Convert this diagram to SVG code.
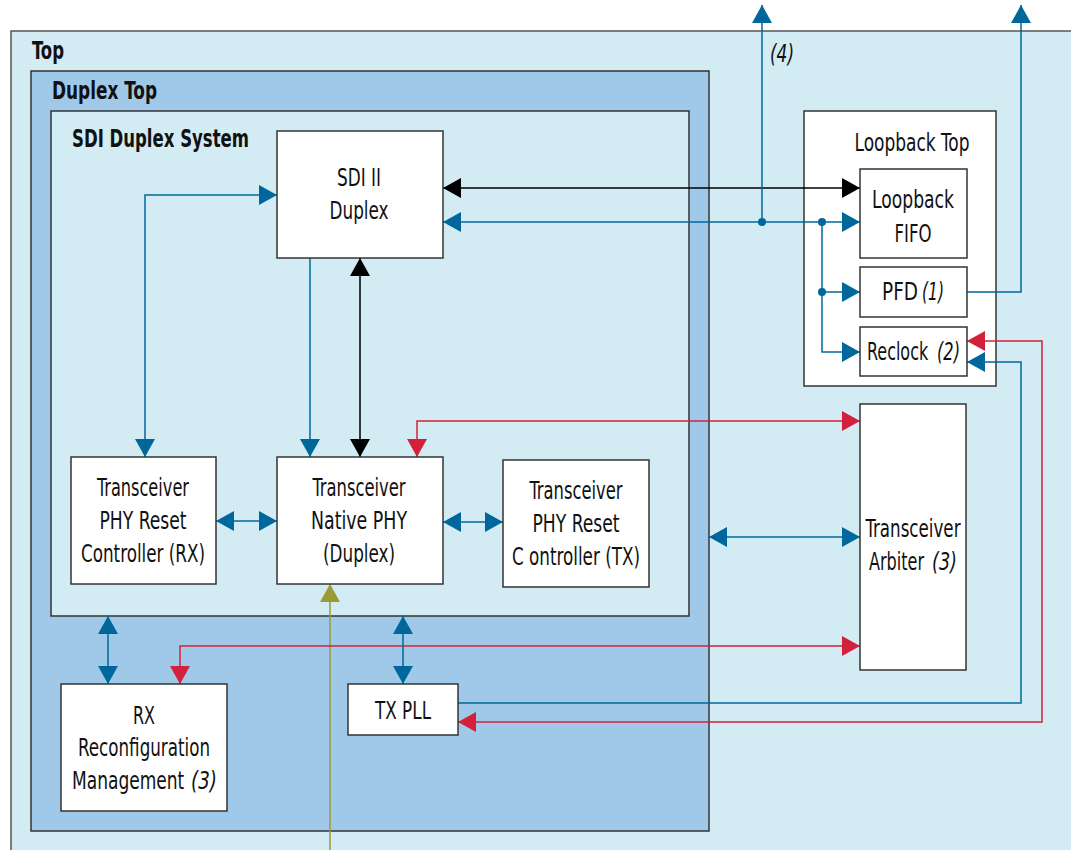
<svg xmlns="http://www.w3.org/2000/svg" width="1071" height="850" viewBox="0 0 1071 850">
  <style>
    .lt { fill: #d3ecf3; stroke: #555; stroke-width: 1.5; }
    .md { fill: #a0c9e9; stroke: #333; stroke-width: 1.5; }
    .bx { fill: #ffffff; stroke: #333; stroke-width: 1.5; }
    text { font-family: "Liberation Sans Narrow", "DejaVu Sans Condensed", "Liberation Sans", sans-serif; font-size: 24px; fill: #111; }
    .c { text-anchor: middle; }
    .h { font-weight: bold; }
    .i { font-style: italic; }
    .w { fill: none; stroke-width: 1.5; }
    .blu { stroke: #00679c; }
    .blk { stroke: #000; }
    .red { stroke: #d3213c; }
    .olv { stroke: #9a9a37; }
  </style>
  <defs>
    <marker id="aB" markerUnits="userSpaceOnUse" markerWidth="18" markerHeight="20" refX="18" refY="10" orient="auto-start-reverse">
      <path d="M0,0 L18,10 L0,20 z" fill="#00679c"/>
    </marker>
    <marker id="aK" markerUnits="userSpaceOnUse" markerWidth="18" markerHeight="20" refX="18" refY="10" orient="auto-start-reverse">
      <path d="M0,0 L18,10 L0,20 z" fill="#000"/>
    </marker>
    <marker id="aR" markerUnits="userSpaceOnUse" markerWidth="18" markerHeight="20" refX="18" refY="10" orient="auto-start-reverse">
      <path d="M0,0 L18,10 L0,20 z" fill="#d3213c"/>
    </marker>
    <marker id="aO" markerUnits="userSpaceOnUse" markerWidth="18" markerHeight="20" refX="18" refY="10" orient="auto-start-reverse">
      <path d="M0,0 L18,10 L0,20 z" fill="#9a9a37"/>
    </marker>
  </defs>

  <rect width="1071" height="850" fill="#fff"/>

  <!-- containers -->
  <g id="top">
    <rect class="lt" x="11" y="31" width="1080" height="840"/>
    <text class="h" x="32" y="59" textLength="32" lengthAdjust="spacingAndGlyphs">Top</text>
  </g>
  <g id="duplex-top">
    <rect class="md" x="31" y="71" width="678" height="760"/>
    <text class="h" x="52" y="99" textLength="105" lengthAdjust="spacingAndGlyphs">Duplex Top</text>
  </g>
  <g id="sdi-duplex-system">
    <rect class="lt" x="51" y="111" width="638" height="505" style="stroke:#333"/>
    <text class="h" x="72" y="147" textLength="177" lengthAdjust="spacingAndGlyphs">SDI Duplex System</text>
  </g>
  <g id="loopback-top">
    <rect class="bx" x="804" y="111" width="192" height="275"/>
    <text class="c" x="912" y="151" textLength="115" lengthAdjust="spacingAndGlyphs">Loopback Top</text>
  </g>

  <!-- connectors -->
  <g id="connectors">
    <path class="w blu" d="M277,195 H145 V457" marker-start="url(#aB)" marker-end="url(#aB)"/>
    <path class="w blu" d="M310,258 V457" marker-end="url(#aB)"/>
    <path class="w blk" d="M360,258 V457" marker-start="url(#aK)" marker-end="url(#aK)"/>
    <path class="w red" d="M860,421 H417 V457" marker-start="url(#aR)" marker-end="url(#aR)"/>
    <path class="w blu" d="M216,521 H277" marker-start="url(#aB)" marker-end="url(#aB)"/>
    <path class="w blu" d="M443,522 H503" marker-start="url(#aB)" marker-end="url(#aB)"/>
    <path class="w olv" d="M330,850 V584" marker-end="url(#aO)"/>
    <path class="w blu" d="M108,616 V684" marker-start="url(#aB)" marker-end="url(#aB)"/>
    <path class="w red" d="M860,646 H180 V684" marker-start="url(#aR)" marker-end="url(#aR)"/>
    <path class="w blu" d="M403,616 V684" marker-start="url(#aB)" marker-end="url(#aB)"/>
    <path class="w blk" d="M443,188 H860" marker-start="url(#aK)" marker-end="url(#aK)"/>
    <path class="w blu" d="M443,222 H860" marker-start="url(#aB)" marker-end="url(#aB)"/>
    <path class="w blu" d="M762,222 V5" marker-end="url(#aB)"/>
    <path class="w blu" d="M822,222 V352 H860" marker-end="url(#aB)"/>
    <path class="w blu" d="M822,292 H860" marker-end="url(#aB)"/>
    <path class="w blu" d="M967,292 H1021 V5" marker-end="url(#aB)"/>
    <path class="w red" d="M458,722 H1042 V341 H967" marker-start="url(#aR)" marker-end="url(#aR)"/>
    <path class="w blu" d="M458,703 H1021 V362 H967" marker-end="url(#aB)"/>
    <path class="w blu" d="M709,537 H860" marker-start="url(#aB)" marker-end="url(#aB)"/>
    <circle cx="762" cy="222" r="4" fill="#00679c"/>
    <circle cx="822" cy="222" r="4" fill="#00679c"/>
    <circle cx="822" cy="292" r="4" fill="#00679c"/>
    <text class="i" x="770" y="62" textLength="24" lengthAdjust="spacingAndGlyphs">(4)</text>
  </g>

  <!-- nodes -->
  <g id="sdi-ii-duplex">
    <rect class="bx" x="277" y="131" width="166" height="127"/>
    <text class="c" x="359" y="186" textLength="44" lengthAdjust="spacingAndGlyphs">SDI II</text>
    <text class="c" x="359" y="219" textLength="59" lengthAdjust="spacingAndGlyphs">Duplex</text>
  </g>
  <g id="reset-rx">
    <rect class="bx" x="71" y="457" width="145" height="127"/>
    <text class="c" x="143" y="496" textLength="92" lengthAdjust="spacingAndGlyphs">Transceiver</text>
    <text class="c" x="143" y="529" textLength="87" lengthAdjust="spacingAndGlyphs">PHY Reset</text>
    <text class="c" x="143" y="562" textLength="124" lengthAdjust="spacingAndGlyphs">Controller (RX)</text>
  </g>
  <g id="native-phy">
    <rect class="bx" x="277" y="457" width="166" height="127"/>
    <text class="c" x="359" y="496" textLength="93" lengthAdjust="spacingAndGlyphs">Transceiver</text>
    <text class="c" x="359" y="529" textLength="96" lengthAdjust="spacingAndGlyphs">Native PHY</text>
    <text class="c" x="359" y="562" textLength="72" lengthAdjust="spacingAndGlyphs">(Duplex)</text>
  </g>
  <g id="reset-tx">
    <rect class="bx" x="503" y="460" width="146" height="127"/>
    <text class="c" x="576" y="499" textLength="93" lengthAdjust="spacingAndGlyphs">Transceiver</text>
    <text class="c" x="576" y="532" textLength="87" lengthAdjust="spacingAndGlyphs">PHY Reset</text>
    <text class="c" x="576" y="565" textLength="128" lengthAdjust="spacingAndGlyphs">C ontroller (TX)</text>
  </g>
  <g id="rx-reconfig">
    <rect class="bx" x="61" y="684" width="166" height="127"/>
    <text class="c" x="144" y="724" textLength="22" lengthAdjust="spacingAndGlyphs">RX</text>
    <text class="c" x="144" y="756" textLength="132" lengthAdjust="spacingAndGlyphs">Reconfiguration</text>
    <!-- name word narrowed by scaling so the italic note fits beside it -->
    <text transform="translate(72,789) scale(0.79,1)">Management</text>
    <text class="i" x="191" y="789" textLength="26" lengthAdjust="spacingAndGlyphs">(3)</text>
  </g>
  <g id="tx-pll">
    <rect class="bx" x="348" y="684" width="110" height="51"/>
    <text class="c" x="403" y="719" textLength="56" lengthAdjust="spacingAndGlyphs">TX PLL</text>
  </g>
  <g id="loopback-fifo">
    <rect class="bx" x="860" y="169" width="107" height="89"/>
    <text class="c" x="913" y="208" textLength="82" lengthAdjust="spacingAndGlyphs">Loopback</text>
    <text class="c" x="913" y="242" textLength="37" lengthAdjust="spacingAndGlyphs">FIFO</text>
  </g>
  <g id="pfd">
    <rect class="bx" x="860" y="267" width="107" height="50"/>
    <text x="882" y="300" textLength="36" lengthAdjust="spacingAndGlyphs">PFD</text>
    <text class="i" x="922" y="300" textLength="22" lengthAdjust="spacingAndGlyphs">(1)</text>
  </g>
  <g id="reclock">
    <rect class="bx" x="860" y="327" width="107" height="49"/>
    <text transform="translate(867,360) scale(0.74,1)">Reclock</text>
    <text class="i" x="937" y="360" textLength="23" lengthAdjust="spacingAndGlyphs">(2)</text>
  </g>
  <g id="arbiter">
    <rect class="bx" x="860" y="404" width="106" height="266"/>
    <text class="c" x="913" y="537" textLength="95" lengthAdjust="spacingAndGlyphs">Transceiver</text>
    <text transform="translate(869,570) scale(0.745,1)">Arbiter</text>
    <text class="i" x="932" y="570" textLength="25" lengthAdjust="spacingAndGlyphs">(3)</text>
  </g>
</svg>
